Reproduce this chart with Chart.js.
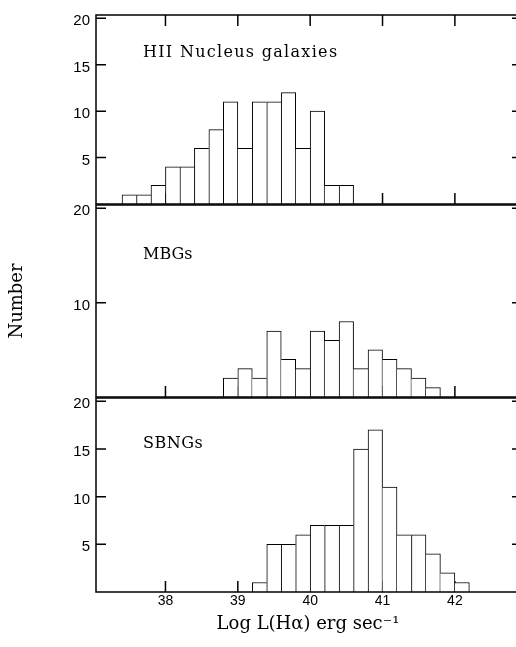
<!DOCTYPE html>
<html lang="en">
<head>
<meta charset="UTF-8">
<title>Log L(Hα) histograms</title>
<script src="https://cdn.jsdelivr.net/npm/chart.js"></script>
<style>
  html, body { margin: 0; padding: 0; background: #fff; overflow: hidden; }
  #wrap { position: relative; width: 516px; height: 647px; overflow: hidden; }
  canvas { position: absolute; left: 0; top: 0; }
</style>
</head>
<body>
<div id="wrap">
  <canvas id="hii" width="524" height="647"></canvas>
  <canvas id="mbg" width="524" height="647"></canvas>
  <canvas id="sbng" width="524" height="647"></canvas>
</div>
<script>
// bin centres (0.2 dex bins) and counts
const hiiBins   = [37.5, 37.7, 37.9, 38.1, 38.3, 38.5, 38.7, 38.9, 39.1, 39.3, 39.5, 39.7, 39.9, 40.1, 40.3, 40.5];
const hiiCounts = [1, 1, 2, 4, 4, 6, 8, 11, 6, 11, 11, 12, 6, 10, 2, 2];

const mbgBins   = [38.9, 39.1, 39.3, 39.5, 39.7, 39.9, 40.1, 40.3, 40.5, 40.7, 40.9, 41.1, 41.3, 41.5, 41.7];
const mbgCounts = [2, 3, 2, 7, 4, 3, 7, 6, 8, 3, 5, 4, 3, 2, 1];

const sbngBins   = [39.3, 39.5, 39.7, 39.9, 40.1, 40.3, 40.5, 40.7, 40.9, 41.1, 41.3, 41.5, 41.7, 41.9, 42.1];
const sbngCounts = [1, 5, 5, 6, 7, 7, 7, 15, 17, 11, 6, 6, 4, 2, 1];

const xTicks    = [38, 39, 40, 41, 42];
const hiiYTicks  = [5, 10, 15, 20];
const mbgYTicks  = [10, 20];
const sbngYTicks = [5, 10, 15, 20];

const xTitle = 'Log L(Hα) erg sec⁻¹';
const yTitle = 'Number';

Chart.defaults.font.family = '"Liberation Sans", Arial, sans-serif';
Chart.defaults.color = '#000';

// frame, inward ticks and the panel name
const framePlugin = {
    id: 'frame',
    beforeDatasetsDraw(chart, args, opts) {
        const { ctx, chartArea: a, scales: { x, y } } = chart;
        ctx.save();
        ctx.strokeStyle = '#000';
        ctx.lineWidth = 1.5;
        ctx.beginPath();
        x.ticks.forEach(t => {
            const px = x.getPixelForValue(t.value);
            ctx.moveTo(px, a.bottom); ctx.lineTo(px, a.bottom - 11);
            if (opts.topTicks) { ctx.moveTo(px, a.top); ctx.lineTo(px, a.top + 11); }
        });
        y.ticks.forEach(t => {
            const py = y.getPixelForValue(t.value);
            ctx.moveTo(a.left, py); ctx.lineTo(a.left + 10, py);
            ctx.moveTo(a.right, py); ctx.lineTo(a.right - 8, py);
        });
        ctx.stroke();
        ctx.restore();
    },
    afterDatasetsDraw(chart, args, opts) {
        const { ctx, chartArea: a } = chart;
        ctx.save();
        ctx.strokeStyle = '#000';
        ctx.lineWidth = 1.5;
        ctx.strokeRect(a.left, a.top, a.right - a.left, a.bottom - a.top);
        ctx.fillStyle = '#000';
        ctx.font = '16px "DejaVu Serif"';
        ctx.letterSpacing = opts.spacing;
        ctx.textBaseline = 'alphabetic';
        ctx.fillText(opts.label, a.left + 47, a.top + opts.labelDy);
        ctx.restore();
    }
};

// draw a shared edge only once, on the taller side
function edgeWidths(c) {
    const d = c.dataset.data;
    const i = c.dataIndex;
    const h = d[i].y;
    const prev = i > 0 ? d[i - 1].y : 0;
    const next = i < d.length - 1 ? d[i + 1].y : 0;
    return { top: 1, bottom: 0, left: h >= prev ? 1 : 0, right: h > next ? 1 : 0 };
}

function makePanel(id, bins, counts, yTicks, o) {
    return new Chart(document.getElementById(id), {
        type: 'bar',
        data: {
            datasets: [{
                data: bins.map((b, i) => ({ x: b, y: counts[i] })),
                backgroundColor: '#fff',
                borderColor: '#000',
                borderWidth: edgeWidths,
                barPercentage: 1,
                categoryPercentage: 1
            }]
        },
        options: {
            responsive: false,
            animation: false,
            layout: { padding: o.padding },
            plugins: {
                legend: { display: false },
                tooltip: { enabled: false },
                frame: { label: o.label, labelDy: o.labelDy, spacing: o.spacing, topTicks: o.topTicks }
            },
            scales: {
                x: {
                    type: 'linear',
                    min: 37.04,
                    max: 42.9,
                    offset: false,
                    display: o.showX,
                    grid: { display: false, drawTicks: false },
                    border: { display: false },
                    afterBuildTicks: s => { s.ticks = xTicks.map(v => ({ value: v })); },
                    ticks: { font: { size: 14 }, color: '#000', padding: 1, maxRotation: 0, autoSkip: false },
                    title: {
                        display: o.showX,
                        text: xTitle,
                        color: '#000',
                        font: { family: '"DejaVu Serif"', size: 18 },
                        padding: { top: 0, bottom: 12 }
                    },
                    afterFit: s => { if (o.showX) s.height = 55; }
                },
                y: {
                    min: 0,
                    max: 20.35,
                    grid: { display: false, drawTicks: false },
                    border: { display: false },
                    afterBuildTicks: s => { s.ticks = yTicks.map(v => ({ value: v })); },
                    ticks: { font: { size: 15 }, color: '#000', padding: 6, labelOffset: 3 },
                    title: {
                        display: o.showYTitle,
                        text: yTitle,
                        color: '#000',
                        font: { family: '"DejaVu Serif"', size: 18 },
                        padding: { top: 7, bottom: 0 }
                    },
                    afterFit: s => { s.width = 96; }
                }
            }
        },
        plugins: [framePlugin]
    });
}

makePanel('hii', hiiBins, hiiCounts, hiiYTicks, {
    padding: { top: 12, bottom: 443, left: 0, right: 4 },
    label: 'HII Nucleus galaxies', labelDy: 41.5, spacing: '1.3px',
    topTicks: true, showX: false, showYTitle: false
});
makePanel('mbg', mbgBins, mbgCounts, mbgYTicks, {
    padding: { top: 205, bottom: 250, left: 0, right: 4 },
    label: 'MBGs', labelDy: 54.3, spacing: '0px',
    topTicks: false, showX: false, showYTitle: true
});
makePanel('sbng', sbngBins, sbngCounts, sbngYTicks, {
    padding: { top: 398, bottom: 0, left: 0, right: 4 },
    label: 'SBNGs', labelDy: 50.3, spacing: '0.5px',
    topTicks: false, showX: true, showYTitle: false
});
</script>
</body>
</html>
